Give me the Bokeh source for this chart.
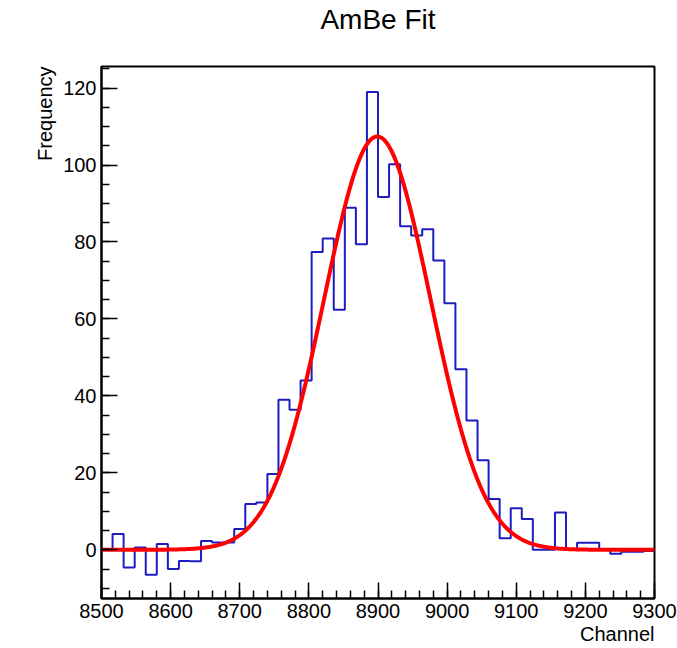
import numpy as np
from bokeh.plotting import figure
from bokeh.models import Title, SingleIntervalTicker, Range1d
from bokeh.embed import file_html
from bokeh.resources import INLINE

# ---- data ----
bin_start = 8500
bin_width = 16
counts = [0.0, 4.1, -4.6, 0.6, -6.5, 1.5, -5.0, -2.9, -3.0, 2.3,
          1.9, 1.9, 5.4, 11.9, 12.3, 19.7, 39.0, 36.4, 44.0, 77.4,
          80.9, 62.4, 88.9, 79.4, 119.0, 91.7, 100.2, 84.1, 81.7, 83.3,
          75.2, 64.1, 46.9, 33.6, 23.3, 13.2, 3.0, 10.8, 8.0, 0.0,
          0.0, 9.7, 0.0, 1.8, 1.8, 0.0, -1.0, -0.5, -0.5, -0.3]
# Gaussian fit parameters
fit_amplitude = 107.4
fit_mean = 8899.0
fit_sigma = 77.0

title_text = "AmBe Fit"
x_label = "Channel"
y_label = "Frequency"

# ---- build histogram outline ----
edges = [bin_start + i * bin_width for i in range(len(counts) + 1)]
hx, hy = [], []
for i, c in enumerate(counts):
    hx += [edges[i], edges[i + 1]]
    hy += [c, c]

fx = np.linspace(8500, 9300, 801)
fy = fit_amplitude * np.exp(-0.5 * ((fx - fit_mean) / fit_sigma) ** 2)

FONT = "Liberation Sans"

p = figure(width=677, height=648, output_backend="svg", toolbar_location=None,
           x_range=Range1d(8500, 9300), y_range=Range1d(-12.66, 125.6),
           min_border_left=101, min_border_right=23, min_border_top=66,
           min_border_bottom=50)
p.title = None
p.grid.visible = False
p.background_fill_color = "white"
p.border_fill_color = "white"
p.outline_line_color = "black"
p.outline_line_width = 2

# spacer between frame and title (closest to frame), then the title itself
p.add_layout(Title(text=" ", text_font=FONT, text_font_size="10px", standoff=19), "above")
p.add_layout(Title(text=title_text, align="center", vertical_align="bottom", text_font=FONT,
                   text_font_size="28px", text_font_style="normal", text_color="black",
                   standoff=0), "above")

p.xaxis.ticker = SingleIntervalTicker(interval=100, num_minor_ticks=5)
p.yaxis.ticker = SingleIntervalTicker(interval=20, num_minor_ticks=4)
for ax in (p.xaxis, p.yaxis):
    ax.axis_line_color = "black"
    ax.axis_line_width = 2
    ax.major_tick_line_color = "black"
    ax.minor_tick_line_color = "black"
    ax.major_tick_line_width = 1.5
    ax.minor_tick_line_width = 1.5
    ax.major_tick_in = 16
    ax.major_tick_out = 0
    ax.minor_tick_in = 8
    ax.minor_tick_out = 0
    ax.major_label_text_font = FONT
    ax.major_label_text_font_size = "20px"
    ax.major_label_text_color = "black"
p.xaxis.major_label_standoff = 5
p.yaxis.major_label_standoff = 5

p.line(hx, hy, line_color="#1c1cc0", line_width=2)
p.line(fx, fy, line_color="#ff0000", line_width=4)

p.add_layout(Title(text=x_label, align="right", vertical_align="bottom", text_font=FONT,
                   text_font_size="20px", text_font_style="normal", text_color="black",
                   standoff=0), "below")
p.add_layout(Title(text=y_label, align="right", text_font=FONT, text_font_size="20px",
                   text_font_style="normal", text_color="black", standoff=9), "left")

open("out.html", "w").write(file_html(p, INLINE))
